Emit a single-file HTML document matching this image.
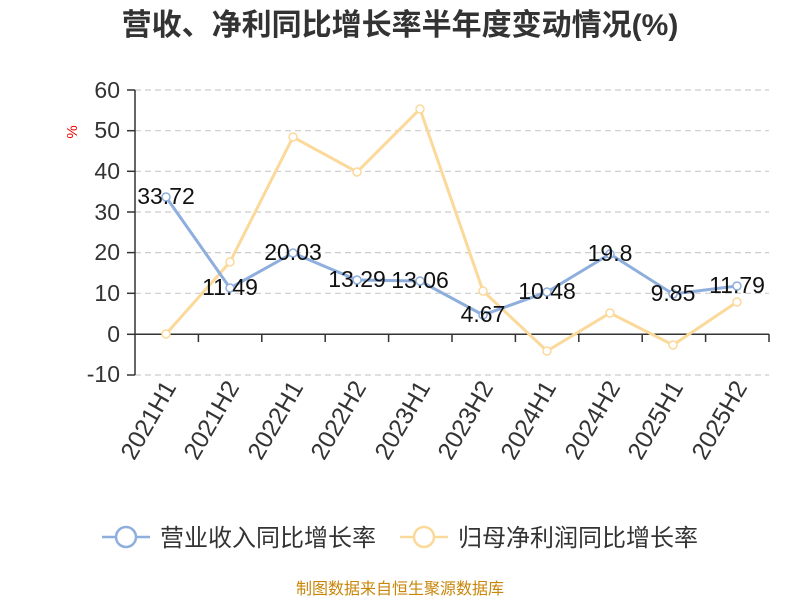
<!DOCTYPE html><html><head><meta charset="utf-8"><style>body{margin:0;background:#fff}svg{display:block}text{font-family:"Liberation Sans","Noto Sans CJK SC",sans-serif}</style></head><body>
<svg width="800" height="600" xmlns="http://www.w3.org/2000/svg">
<text x="400" y="35" text-anchor="middle" font-size="30" font-weight="bold" fill="#333">营收、净利同比增长率半年度变动情况(%)</text>
<text x="77" y="132" font-size="15" fill="#e00" transform="rotate(-90 77 132)" text-anchor="middle">%</text>
<g stroke="#ccc" stroke-dasharray="6,4" stroke-width="1.2">
<line x1="135" x2="769" y1="90" y2="90"/><line x1="135" x2="769" y1="130.7" y2="130.7"/><line x1="135" x2="769" y1="171.3" y2="171.3"/><line x1="135" x2="769" y1="212" y2="212"/><line x1="135" x2="769" y1="252.6" y2="252.6"/><line x1="135" x2="769" y1="293.3" y2="293.3"/><line x1="135" x2="769" y1="375" y2="375"/>
</g>
<g stroke="#333" stroke-width="1.5"><line x1="135" y1="90" x2="135" y2="375"/><line x1="127" y1="90" x2="135" y2="90"/><line x1="127" y1="130.7" x2="135" y2="130.7"/><line x1="127" y1="171.3" x2="135" y2="171.3"/><line x1="127" y1="212" x2="135" y2="212"/><line x1="127" y1="252.6" x2="135" y2="252.6"/><line x1="127" y1="293.3" x2="135" y2="293.3"/><line x1="127" y1="334.3" x2="135" y2="334.3"/><line x1="127" y1="375" x2="135" y2="375"/>
<line x1="135" y1="334.3" x2="769" y2="334.3"/>
<path d="M198.4 334v8M261.8 334v8M325.2 334v8M388.6 334v8M452 334v8M515.4 334v8M578.8 334v8M642.2 334v8M705.6 334v8M769 334v8"/></g>
<g font-size="23" fill="#333" text-anchor="end"><text x="120" y="98">60</text><text x="120" y="138">50</text><text x="120" y="179">40</text><text x="120" y="220">30</text><text x="120" y="260">20</text><text x="120" y="301">10</text><text x="120" y="342">0</text><text x="120" y="382">-10</text></g>
<g font-size="24.5" fill="#333" text-anchor="end">
<text transform="translate(177 387) rotate(-60)">2021H1</text><text transform="translate(240 387) rotate(-60)">2021H2</text><text transform="translate(304 387) rotate(-60)">2022H1</text><text transform="translate(367 387) rotate(-60)">2022H2</text><text transform="translate(431 387) rotate(-60)">2023H1</text><text transform="translate(494 387) rotate(-60)">2023H2</text><text transform="translate(557 387) rotate(-60)">2024H1</text><text transform="translate(621 387) rotate(-60)">2024H2</text><text transform="translate(684 387) rotate(-60)">2025H1</text><text transform="translate(748 387) rotate(-60)">2025H2</text></g>
<g fill="#fff" stroke-width="3">
<polyline fill="none" stroke="#fbd99a" points="166,334 230,262 293,137 357,172 420,109 483,291 547,351 610,313 673,345 737,302"/>
<polyline fill="none" stroke="#8eaedd" points="166,197 230,288 293,253 357,280 420,281 483,315 547,292 610,254 673,294 737,286"/>
<g stroke="#fbd99a" stroke-width="1.5"><circle cx="166" cy="334" r="4"/><circle cx="230" cy="262" r="4"/><circle cx="293" cy="137" r="4"/><circle cx="357" cy="172" r="4"/><circle cx="420" cy="109" r="4"/><circle cx="483" cy="291" r="4"/><circle cx="547" cy="351" r="4"/><circle cx="610" cy="313" r="4"/><circle cx="673" cy="345" r="4"/><circle cx="737" cy="302" r="4"/></g>
<g stroke="#8eaedd" stroke-width="1.5"><circle cx="166" cy="197" r="4"/><circle cx="230" cy="288" r="4"/><circle cx="293" cy="253" r="4"/><circle cx="357" cy="280" r="4"/><circle cx="420" cy="281" r="4"/><circle cx="483" cy="315" r="4"/><circle cx="547" cy="292" r="4"/><circle cx="610" cy="254" r="4"/><circle cx="673" cy="294" r="4"/><circle cx="737" cy="286" r="4"/></g>
</g>
<g font-size="23" fill="#111" text-anchor="middle"><text x="166" y="204">33.72</text><text x="230" y="295">11.49</text><text x="293" y="260">20.03</text><text x="357" y="287">13.29</text><text x="420" y="288">13.06</text><text x="483" y="322">4.67</text><text x="547" y="299">10.48</text><text x="610" y="261">19.8</text><text x="673" y="301">9.85</text><text x="737" y="293">11.79</text></g>
<g stroke-width="2.5" fill="#fff"><line x1="102" y1="537" x2="150" y2="537" stroke="#8eaedd"/><circle cx="126" cy="537" r="10" stroke="#8eaedd"/><line x1="400" y1="537" x2="448" y2="537" stroke="#fbd99a"/><circle cx="424" cy="537" r="10" stroke="#fbd99a"/></g>
<g font-size="24" fill="#333"><text x="160" y="546">营业收入同比增长率</text><text x="458" y="546">归母净利润同比增长率</text></g>
<text x="400" y="594" text-anchor="middle" font-size="16" fill="#c8860a">制图数据来自恒生聚源数据库</text>
</svg></body></html>
